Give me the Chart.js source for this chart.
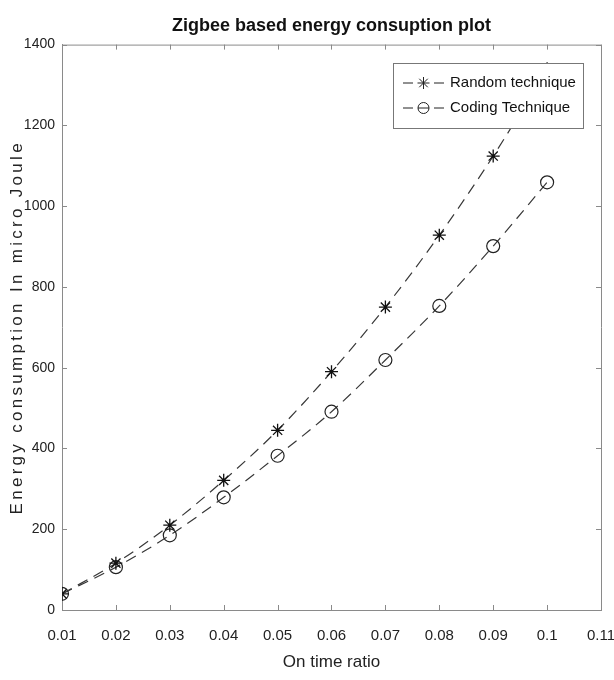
<!DOCTYPE html>
<html>
<head>
<meta charset="utf-8">
<script src="https://cdn.jsdelivr.net/npm/chart.js@4"></script>
<style>
  html, body { margin: 0; padding: 0; background: #fff; }
  #wrap { width: 614px; height: 680px; }
</style>
</head>
<body>
<div id="wrap"><canvas id="myChart" width="614" height="680"></canvas></div>
<script>
// values
const onTimeRatio = [0.01, 0.02, 0.03, 0.04, 0.05, 0.06, 0.07, 0.08, 0.09, 0.1]
const randomTechnique = [40, 116, 210, 321, 445, 590, 750, 928, 1124, 1340]
const codingTechnique = [40, 106, 185, 279, 382, 491, 619, 753, 901, 1059]
const seriesNames = ['Random technique', 'Coding Technique']
const yAxisLabel = 'Energy consumption In micro Joule'

const sans = "'Liberation Sans', Arial, sans-serif"
const axisColor = '#8a8a8a'

const toPoints = (ys) => onTimeRatio.map((x, i) => ({ x: x, y: ys[i] }))

// MATLAB style box, inner ticks, y label and an opaque legend
const boxPlugin = {
  id: 'boxPlugin',
  afterDraw(chart) {
    const ctx = chart.ctx
    const a = chart.chartArea
    const xs = chart.scales.x
    const ys = chart.scales.y
    ctx.save()
    ctx.strokeStyle = axisColor
    ctx.lineWidth = 1
    ctx.beginPath()
    ctx.moveTo(a.left, a.top + 0.5)
    ctx.lineTo(a.right + 0.5, a.top + 0.5)
    ctx.lineTo(a.right + 0.5, a.bottom)
    xs.ticks.forEach((t) => {
      const px = Math.round(xs.getPixelForValue(t.value)) + 0.5
      ctx.moveTo(px, a.bottom)
      ctx.lineTo(px, a.bottom - 5)
      ctx.moveTo(px, a.top)
      ctx.lineTo(px, a.top + 5)
    })
    ys.ticks.forEach((t) => {
      const py = Math.round(ys.getPixelForValue(t.value)) + 0.5
      ctx.moveTo(a.left, py)
      ctx.lineTo(a.left + 5, py)
      ctx.moveTo(a.right, py)
      ctx.lineTo(a.right - 5, py)
    })
    ctx.stroke()

    // y axis label, letters spread out like the original
    ctx.save()
    ctx.translate(17, (a.top + a.bottom) / 2)
    ctx.rotate(-Math.PI / 2)
    ctx.fillStyle = '#222'
    ctx.font = '17px ' + sans
    ctx.letterSpacing = '3.3px'
    ctx.textAlign = 'center'
    ctx.textBaseline = 'middle'
    ctx.fillText(yAxisLabel, 0, 0)
    ctx.restore()

    // legend box
    const lx = 393, ly = 63, lw = 190, lh = 65
    ctx.fillStyle = '#fff'
    ctx.fillRect(lx, ly, lw, lh)
    ctx.strokeStyle = '#777'
    ctx.strokeRect(lx + 0.5, ly + 0.5, lw, lh)
    chart.data.datasets.forEach((ds, i) => {
      const cy = ly + 20 + i * 25
      ctx.strokeStyle = '#222'
      ctx.beginPath()
      ctx.moveTo(lx + 10, cy)
      ctx.lineTo(lx + 20, cy)
      ctx.moveTo(lx + 41, cy)
      ctx.lineTo(lx + 51, cy)
      ctx.stroke()
      const mx = lx + 30.5
      ctx.beginPath()
      if (ds.pointStyle === 'star') {
        for (let k = 0; k < 4; k++) {
          const ang = (k * Math.PI) / 4
          ctx.moveTo(mx - 6 * Math.cos(ang), cy - 6 * Math.sin(ang))
          ctx.lineTo(mx + 6 * Math.cos(ang), cy + 6 * Math.sin(ang))
        }
      } else {
        ctx.arc(mx, cy, 5.5, 0, Math.PI * 2)
        ctx.moveTo(mx - 5.5, cy)
        ctx.lineTo(mx + 5.5, cy)
      }
      ctx.stroke()
      ctx.fillStyle = '#111'
      ctx.font = '15px ' + sans
      ctx.textBaseline = 'middle'
      ctx.textAlign = 'left'
      ctx.fillText(ds.label, lx + 57, cy)
    })
    ctx.restore()
  },
}

const data = {
  datasets: [
    {
      label: seriesNames[0],
      data: toPoints(randomTechnique),
      borderColor: '#383838',
      backgroundColor: 'rgba(0,0,0,0)',
      borderWidth: 1.2,
      borderDash: [11, 7],
      pointStyle: 'star',
      pointRadius: 6.5,
      pointBorderColor: '#111',
      pointBorderWidth: 1.3,
      cubicInterpolationMode: 'monotone',
    },
    {
      label: seriesNames[1],
      data: toPoints(codingTechnique),
      borderColor: '#383838',
      backgroundColor: 'rgba(0,0,0,0)',
      borderWidth: 1.2,
      borderDash: [11, 7],
      pointStyle: 'circle',
      pointRadius: 6.5,
      pointBorderColor: '#222',
      pointBorderWidth: 1.2,
      cubicInterpolationMode: 'monotone',
    },
  ],
}

const config = {
  type: 'line',
  data: data,
  plugins: [boxPlugin],
  options: {
    responsive: false,
    animation: false,
    layout: { padding: { left: 0, right: 13, top: 0, bottom: 0 } },
    plugins: {
      legend: { display: false },
      tooltip: { enabled: false },
      title: {
        display: true,
        fullSize: false,
        text: 'Zigbee based energy consuption plot',
        color: '#111',
        font: { family: sans, size: 18, weight: 'bold' },
        padding: { top: 15, bottom: 8 },
      },
    },
    scales: {
      x: {
        type: 'linear',
        min: 0.01,
        max: 0.11,
        grid: { display: false, drawTicks: false },
        border: { display: true, color: axisColor, width: 1 },
        ticks: {
          stepSize: 0.01,
          color: '#222',
          font: { family: sans, size: 15 },
          padding: 17,
          maxRotation: 0,
          callback: (v) => String(+v.toFixed(2)),
        },
        title: {
          display: true,
          text: 'On time ratio',
          color: '#222',
          font: { family: sans, size: 17 },
          padding: { top: 2, bottom: 7 },
        },
        afterFit: (scale) => {
          scale.height = 70
          scale.paddingLeft = 0
          scale.paddingRight = 0
        },
      },
      y: {
        min: 0,
        max: 1400,
        grid: { display: false, drawTicks: false },
        border: { display: true, color: axisColor, width: 1 },
        ticks: {
          stepSize: 200,
          color: '#222',
          font: { family: sans, size: 14 },
          padding: 7,
          callback: (v) => String(v),
        },
        afterFit: (scale) => {
          scale.width = 62
          scale.paddingTop = 0
          scale.paddingBottom = 0
        },
      },
    },
  },
}

const myChart = new Chart(document.getElementById('myChart'), config)
</script>
</body>
</html>
